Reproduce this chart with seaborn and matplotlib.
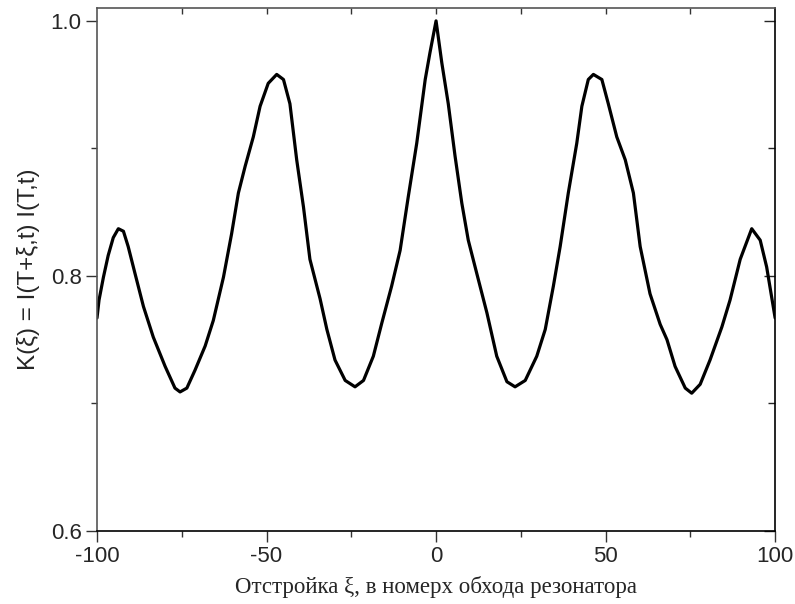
import numpy as np
import pandas as pd
import seaborn as sns
import matplotlib.pyplot as plt

# detuning (round trips) and correlation K(xi)
xi = [-100, -99.4, -98.1, -96.7, -95.2, -93.7, -92.2, -90.8, -88.8, -86.3,
      -83.4, -79.9, -77.0, -75.5, -73.5, -71.1, -68.1, -65.7, -62.7, -60.3,
      -58.3, -56.3, -53.9, -51.9, -49.5, -47.0, -45.0, -43.1, -41.1, -39.1,
      -37.2, -34.2, -32.2, -29.8, -26.8, -23.9, -21.4, -18.5, -16.0, -13.1,
      -10.6, -8.2, -5.7, -3.2, -1.8, 0, 1.7, 3.6, 5.6, 7.6,
      9.5, 12.0, 15.0, 17.9, 20.9, 23.3, 26.3, 29.7, 32.2, 34.6,
      36.6, 39.0, 41.5, 43.0, 44.9, 46.4, 48.9, 50.8, 53.3, 55.8,
      58.2, 60.2, 63.1, 66.1, 68.1, 70.5, 73.5, 75.4, 77.9, 80.8,
      84.3, 86.7, 89.7, 93.1, 95.6, 97.5, 100]
K = [0.767, 0.781, 0.799, 0.816, 0.830, 0.837, 0.835, 0.823, 0.802, 0.776,
     0.752, 0.729, 0.712, 0.709, 0.712, 0.726, 0.745, 0.765, 0.799, 0.833,
     0.865, 0.886, 0.909, 0.933, 0.951, 0.958, 0.954, 0.935, 0.891, 0.854,
     0.813, 0.782, 0.758, 0.734, 0.718, 0.713, 0.718, 0.737, 0.763, 0.792,
     0.820, 0.862, 0.904, 0.954, 0.975, 1.000, 0.967, 0.935, 0.894, 0.857,
     0.828, 0.802, 0.771, 0.737, 0.717, 0.713, 0.718, 0.737, 0.758, 0.792,
     0.823, 0.865, 0.904, 0.933, 0.954, 0.958, 0.954, 0.935, 0.909, 0.891,
     0.865, 0.823, 0.786, 0.762, 0.750, 0.729, 0.712, 0.708, 0.715, 0.734,
     0.760, 0.781, 0.813, 0.837, 0.828, 0.807, 0.767]

xticks = [-100, -50, 0, 50, 100]
yticks = [0.6, 0.8, 1.0]

sns.set_style('ticks')
plt.rcParams['font.family'] = ['Liberation Sans', 'DejaVu Sans']

df = pd.DataFrame({'xi': xi, 'K': K})

fig = plt.figure(figsize=(7.95, 6.04), dpi=100)
ax = fig.add_axes([0.122, 0.121, 0.853, 0.866])
sns.lineplot(data=df, x='xi', y='K', ax=ax, color='black', linewidth=2.3)

ax.set_xlim(-100, 100)
ax.set_ylim(0.6, 1.0102)
ax.set_xticks(xticks)
ax.set_xticklabels([str(v) for v in xticks])
ax.set_xticks(np.arange(-75, 100, 50), minor=True)
ax.set_yticks(yticks)
ax.set_yticklabels(['0.6', '0.8', '1.0'])
ax.set_yticks([0.7, 0.9], minor=True)
ax.tick_params(which='major', direction='out', length=8, width=1, labelsize=16,
               color='#333333', pad=3, top=False, right=False)
ax.tick_params(which='minor', direction='out', length=4, width=1, color='#333333',
               top=False, right=False)

# inward ticks on top and right
top = ax.secondary_xaxis('top')
top.set_xticks(np.arange(-75, 100, 25))
top.tick_params(direction='in', length=4, width=1, labeltop=False, color='#333333')
top.spines['top'].set_visible(False)
right = ax.secondary_yaxis('right')
right.set_yticks(yticks)
right.set_yticks([0.7, 0.9], minor=True)
right.tick_params(which='major', direction='in', length=8, width=1, labelright=False)
right.tick_params(which='minor', direction='in', length=5, width=1)
right.spines['right'].set_visible(False)

for side in ['left', 'top']:
    ax.spines[side].set_color('#555555')
for side in ['bottom', 'right']:
    ax.spines[side].set_color('black')
for s in ax.spines.values():
    s.set_visible(True)
    s.set_linewidth(1.2)

ax.set_ylabel('K(ξ) = I(T+ξ,t) I(T,t)', fontsize=17.5, labelpad=8)
ax.set_xlabel('Отстройка ξ, в номерх обхода резонатора', fontsize=16.5,
              family=['Liberation Serif', 'DejaVu Serif'], labelpad=6)

fig.savefig('out.png', dpi=100)
